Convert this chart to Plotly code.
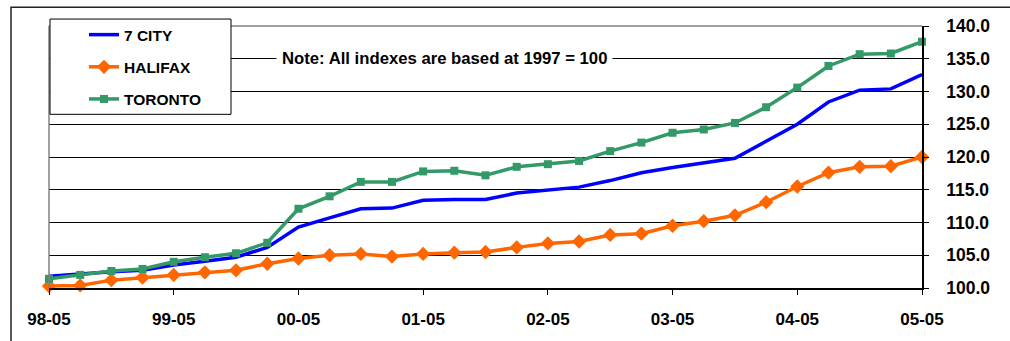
import plotly.graph_objects as go

periods = ["98-05", "98-08", "98-11", "99-02", "99-05", "99-08", "99-11", "00-02",
           "00-05", "00-08", "00-11", "01-02", "01-05", "01-08", "01-11", "02-02",
           "02-05", "02-08", "02-11", "03-02", "03-05", "03-08", "03-11", "04-02",
           "04-05", "04-08", "04-11", "05-02", "05-05"]

city7 = [101.8, 102.2, 102.5, 102.7, 103.5, 104.1, 104.7, 106.2, 109.3, 110.7,
         112.1, 112.2, 113.4, 113.5, 113.5, 114.5, 115.0, 115.4, 116.4, 117.6,
         118.4, 119.1, 119.8, 122.4, 125.0, 128.4, 130.2, 130.4, 132.6]

halifax = [100.3, 100.4, 101.2, 101.6, 102.0, 102.4, 102.7, 103.7, 104.5, 105.0,
           105.2, 104.8, 105.2, 105.4, 105.5, 106.2, 106.8, 107.1, 108.1, 108.3,
           109.5, 110.2, 111.1, 113.1, 115.5, 117.6, 118.5, 118.6, 120.0]

toronto = [101.4, 102.0, 102.6, 102.9, 104.0, 104.7, 105.3, 106.9, 112.1, 114.0,
           116.2, 116.2, 117.8, 117.9, 117.2, 118.5, 118.9, 119.4, 120.9, 122.2,
           123.7, 124.2, 125.2, 127.6, 130.6, 133.9, 135.7, 135.8, 137.6]

year_ticks = ["98-05", "99-05", "00-05", "01-05", "02-05", "03-05", "04-05", "05-05"]
y_ticks = [100, 105, 110, 115, 120, 125, 130, 135, 140]
note_text = "Note: All indexes are based at 1997 = 100"

FONT = "Liberation Sans, Arial, sans-serif"

fig = go.Figure()
fig.add_trace(go.Scatter(x=periods, y=city7, name="7 CITY", mode="lines",
                         line=dict(color="#0000FF", width=3.5),
                         legendgroup="a", cliponaxis=False))
fig.add_trace(go.Scatter(x=periods, y=halifax, name="HALIFAX", mode="lines+markers",
                         line=dict(color="#FF6600", width=3.5),
                         marker=dict(symbol="diamond", size=11, color="#FF6600"),
                         legendgroup="b", cliponaxis=False))
fig.add_trace(go.Scatter(x=periods, y=toronto, name="TORONTO", mode="lines+markers",
                         line=dict(color="#339966", width=3.5),
                         marker=dict(symbol="square", size=8, color="#339966"),
                         legendgroup="c", cliponaxis=False))

W, H = 1010, 341
L, R, T, B = 49, 88, 26, 51
pw, ph = W - L - R, H - T - B


def px(x):
    return (x - L) / pw


def py(y):
    return (H - B - y) / ph


shapes = [
    # outer chart frame
    dict(type="rect", xref="paper", yref="paper", x0=px(11), x1=px(1040),
         y0=py(380), y1=py(7), line=dict(color="#222222", width=1.5), layer="below"),
    # gray plot border top and left
    dict(type="line", xref="paper", yref="paper", x0=0, x1=1, y0=1, y1=1,
         line=dict(color="#808080", width=1.5), layer="above"),
    dict(type="line", xref="paper", yref="paper", x0=0, x1=0, y0=0, y1=1,
         line=dict(color="#808080", width=1.5), layer="above"),
    # legend box
    dict(type="rect", xref="paper", yref="paper", x0=px(50), x1=px(231),
         y0=py(115), y1=py(19), line=dict(color="#000000", width=1),
         fillcolor="white", layer="above"),
]

fig.update_layout(
    width=W, height=H,
    margin=dict(l=L, r=R, t=T, b=B),
    paper_bgcolor="white", plot_bgcolor="white",
    font=dict(family=FONT, size=16, color="#000000", weight="bold"),
    showlegend=True,
    legend=dict(x=px(84), y=py(18), xanchor="left", yanchor="top",
                bgcolor="rgba(0,0,0,0)", borderwidth=0, tracegroupgap=9,
                font=dict(family=FONT, size=15.5, weight="bold")),
    xaxis=dict(type="category", range=[0, len(periods) - 1],
               tickmode="array", tickvals=year_ticks, ticktext=year_ticks,
               ticks="outside", ticklen=5, tickcolor="black", tickwidth=1,
               showline=True, linecolor="black", linewidth=1.5,
               showgrid=False, zeroline=False,
               tickfont=dict(family=FONT, size=17, weight="bold"),
               ticklabelstandoff=10),
    xaxis2=dict(overlaying="x", anchor="y", range=[0, len(periods) - 1],
                tickmode="array", tickvals=[periods.index(t) for t in year_ticks],
                ticks="inside", ticklen=5, tickcolor="black", tickwidth=1,
                showticklabels=False, showgrid=False, showline=False,
                zeroline=False, side="bottom"),
    yaxis=dict(range=[100, 140], side="right", tickmode="array", tickvals=y_ticks,
               tickformat=".1f", ticks="outside", ticklen=5, tickcolor="black",
               showline=True, linecolor="black", linewidth=1.5,
               showgrid=True, gridcolor="black", gridwidth=1, zeroline=False,
               tickfont=dict(family=FONT, size=17.5, weight="bold"),
               ticklabelstandoff=14),
    shapes=shapes,
    annotations=[dict(text=note_text, xref="paper", yref="y",
                      x=px(444), y=135, xanchor="center", yanchor="middle",
                      showarrow=False, bgcolor="white", borderpad=5,
                      font=dict(family=FONT, size=16.7, weight="bold"))],
)

fig.write_html("out.html", config={"displayModeBar": False},
               post_script="document.body.style.margin='0';")
